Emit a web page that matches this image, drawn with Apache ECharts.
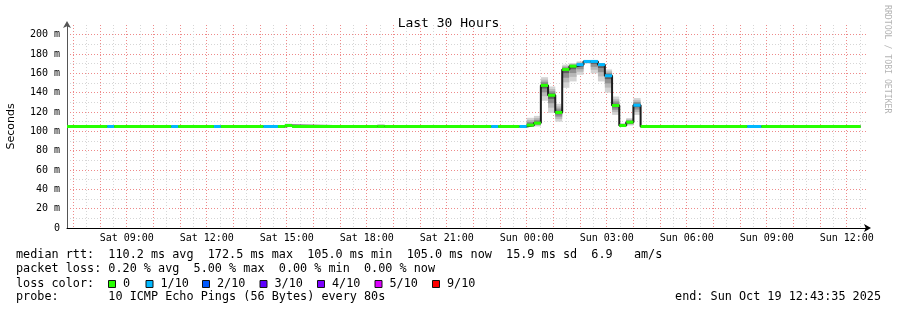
<!DOCTYPE html>
<html>
<head>
<meta charset="utf-8">
<title>Last 30 Hours</title>
<script src="https://cdn.jsdelivr.net/npm/echarts@6/dist/echarts.min.js"></script>
<style>
html, body {margin: 0; padding: 0; background: #fff;}
#chart {width: 897px; height: 310px;}
</style>
</head>
<body>
<div id="chart"></div>
<script>
// time is in hours since Sat 00:00; each step lasts until the next one starts
var stepStart = [6.76, 8.27, 8.53, 10.67, 10.93, 12.27, 12.53, 14.13, 14.67, 14.93, 15.2, 18.4, 18.67, 22.67, 22.93, 23.73,
    24.0, 24.27, 24.53, 24.8, 25.07, 25.33, 25.6, 25.87, 26.13, 26.4, 26.67, 26.93, 27.2, 27.47, 27.73, 28.0,
    28.27, 32.27, 32.8];
var dataEnd = 36.52;
// median rtt, ms
var medianMs = [105, 105, 105, 105, 105, 105, 105, 105, 105, 106, 105, 105, 105, 105, 105, 105,
    106.4, 108.5, 147.5, 137.3, 119.5, 164, 167.4, 169, 172.3, 172.3, 169, 157.5, 126.7, 106, 109.5, 127,
    105, 105, 105];
// lost pings out of 10
var lossCount = [0, 1, 0, 1, 0, 1, 0, 1, 0, 0, 0, 0, 0, 1, 0, 1,
    0, 0, 0, 0, 0, 0, 0, 1, 1, 1, 1, 1, 0, 0, 0, 1,
    0, 1, 0];
// smoke: lowest and highest ping of the step, ms
var smokeLo = [105, 105, 105, 105, 105, 105, 105, 105, 105, 105, 105, 105, 105, 105, 105, 105,
    105, 105, 131.6, 119, 110, 145, 151.6, 158.5, 170, 160, 151.6, 140, 117, 105, 106, 117,
    105, 105, 105];
var smokeHi = [105, 105, 105, 105, 105, 105, 105, 105, 105, 108, 105, 107.5, 105, 105, 105, 105,
    114, 116, 156, 146.4, 128.5, 169, 170.6, 172.4, 173, 173, 170.6, 164, 136, 108.5, 113.7, 134.4,
    105, 105, 105];

var xLabelHours = [9, 12, 15, 18, 21, 24, 27, 30, 33, 36];
var xLabels = ['Sat 09:00', 'Sat 12:00', 'Sat 15:00', 'Sat 18:00', 'Sat 21:00',
    'Sun 00:00', 'Sun 03:00', 'Sun 06:00', 'Sun 09:00', 'Sun 12:00'];
var yTickValues = [0, 20, 40, 60, 80, 100, 120, 140, 160, 180, 200];
var yTickLabels = ['0', '20 m', '40 m', '60 m', '80 m', '100 m', '120 m', '140 m', '160 m', '180 m', '200 m'];

var lossSteps = [0, 1, 2, 3, 4, 5, 9];
var lossNames = ['0', '1/10', '2/10', '3/10', '4/10', '5/10', '9/10'];
var lossColors = ['#26ff00', '#00b8ff', '#0059ff', '#5e00ff', '#7e00ff', '#dd00ff', '#ff0000'];

var statsText = [
    'median rtt:  110.2 ms avg  172.5 ms max  105.0 ms min  105.0 ms now  15.9 ms sd  6.9   am/s',
    'packet loss: 0.20 % avg  5.00 % max  0.00 % min  0.00 % now',
    'loss color:',
    'probe:       10 ICMP Echo Pings (56 Bytes) every 80s'
];
var endText = 'end: Sun Oct 19 12:43:35 2025';

var MONO = '"DejaVu Sans Mono", monospace';

function stepEnd(i) {
    return i + 1 < stepStart.length ? stepStart[i + 1] : dataEnd;
}

function lossColor(n) {
    var i = lossSteps.indexOf(n);
    return lossColors[i < 0 ? lossColors.length - 1 : i];
}

var smokeData = [], medData = [], connector = [];
stepStart.forEach(function (s, i) {
    var e = stepEnd(i);
    smokeData.push([s, e, smokeLo[i], smokeHi[i], medianMs[i]]);
    medData.push([s, e, medianMs[i], lossCount[i]]);
    connector.push([s, medianMs[i]], [e, medianMs[i]]);
});

function renderSmoke(params, api) {
    var x0 = api.coord([api.value(0), 0])[0];
    var x1 = api.coord([api.value(1), 0])[0];
    var lo = api.value(2), hi = api.value(3), med = api.value(4);
    var bands = [[1, '#d4d4d4'], [0.7, '#b8b8b8'], [0.45, '#909090'], [0.2, '#5e5e5e']];
    return {
        type: 'group',
        children: bands.map(function (b) {
            var top = api.coord([0, med + (hi - med) * b[0]])[1];
            var bot = api.coord([0, med - (med - lo) * b[0]])[1];
            return {
                type: 'rect',
                shape: {x: x0, y: top, width: x1 - x0, height: Math.max(bot - top, 0)},
                style: {fill: b[1]}
            };
        })
    };
}

function renderMedian(params, api) {
    var p0 = api.coord([api.value(0), api.value(2)]);
    var p1 = api.coord([api.value(1), api.value(2)]);
    return {
        type: 'rect',
        shape: {x: p0[0], y: p0[1] - 1.5, width: p1[0] - p0[0], height: 3},
        style: {fill: lossColor(api.value(3))}
    };
}

function fmtX(v) {
    for (var i = 0; i < xLabelHours.length; i++) {
        if (Math.abs(v - xLabelHours[i]) < 1e-6) return xLabels[i];
    }
    return '';
}

function fmtY(v) {
    for (var i = 0; i < yTickValues.length; i++) {
        if (Math.abs(v - yTickValues[i]) < 1e-6) return yTickLabels[i];
    }
    return '';
}

var majorGrid = {color: '#ee8a8a', type: [1, 2], width: 1};
var minorGrid = {color: '#d6d6d6', type: [1, 2], width: 1};

// legend lines under the plot
var graphics = [];
var lineY = [255, 268.7, 283.5, 296.7];
statsText.forEach(function (t, i) {
    graphics.push({
        type: 'text', x: 16, y: lineY[i],
        style: {text: t, fontFamily: MONO, fontSize: 11.8, fill: '#000', verticalAlign: 'middle'}
    });
});
var boxX = [108.5, 146, 202.5, 260, 317.5, 375, 432.5];
lossNames.forEach(function (name, i) {
    graphics.push({
        type: 'rect',
        shape: {x: boxX[i], y: 280.5, width: 7, height: 7},
        style: {fill: lossColors[i], stroke: '#111', lineWidth: 1}
    });
    graphics.push({
        type: 'text', x: boxX[i] + 14.5, y: lineY[2],
        style: {text: name, fontFamily: MONO, fontSize: 11.8, fill: '#000', verticalAlign: 'middle'}
    });
});
graphics.push({
    type: 'text', x: 881, y: lineY[3],
    style: {text: endText, fontFamily: MONO, fontSize: 11.8, fill: '#000', align: 'right', verticalAlign: 'middle'}
});
graphics.push({
    type: 'text', x: 887, y: 5, rotation: -Math.PI / 2,
    style: {text: 'RRDTOOL / TOBI OETIKER', fontFamily: MONO, fontSize: 8.2, fill: '#b4b4b4', align: 'left', verticalAlign: 'middle'}
});

var chart = echarts.init(document.getElementById('chart'), null, {renderer: 'canvas'});
chart.setOption({
    animation: false,
    backgroundColor: '#fff',
    title: {
        text: 'Last 30 Hours', left: 'center', top: 12,
        textStyle: {fontFamily: MONO, fontSize: 13, fontWeight: 'normal', color: '#000'}
    },
    grid: {left: 67, right: 30, top: 25, bottom: 82, containLabel: false, outerBoundsMode: 'none'},
    xAxis: {
        type: 'value', min: 6.76, max: 36.76, splitNumber: 30,
        axisLine: {
            show: true, onZero: false, lineStyle: {color: '#000', width: 1},
            symbol: ['none', 'arrow'], symbolSize: [6, 7], symbolOffset: [0, 4]
        },
        axisTick: {show: false},
        axisLabel: {margin: 5, color: '#000', fontFamily: MONO, fontSize: 10, formatter: fmtX, hideOverlap: false},
        splitLine: {show: true, showMinLine: false, showMaxLine: false, lineStyle: majorGrid},
        minorTick: {show: false, splitNumber: 2},
        minorSplitLine: {show: true, lineStyle: minorGrid}
    },
    yAxis: {
        type: 'value', min: 0, max: 210, interval: 20,
        name: 'Seconds', nameLocation: 'middle', nameGap: 50, nameRotate: 90,
        nameTextStyle: {fontFamily: '"DejaVu Sans", sans-serif', fontSize: 11, color: '#000'},
        axisLine: {
            show: true, lineStyle: {color: '#555', width: 1},
            symbol: ['none', 'arrow'], symbolSize: [6, 7], symbolOffset: [0, 4]
        },
        axisTick: {show: false},
        axisLabel: {margin: 7, color: '#000', fontFamily: MONO, fontSize: 10, formatter: fmtY},
        splitLine: {show: true, showMinLine: false, showMaxLine: false, lineStyle: majorGrid},
        minorTick: {show: false, splitNumber: 2},
        minorSplitLine: {show: true, lineStyle: minorGrid}
    },
    series: [
        {
            type: 'custom', name: 'smoke', renderItem: renderSmoke, data: smokeData,
            encode: {x: [0, 1], y: [2, 3]}, z: 1, silent: true
        },
        {
            type: 'line', name: 'median', data: connector, symbol: 'none', z: 2, silent: true,
            lineStyle: {color: '#1e1e1e', width: 2}
        },
        {
            type: 'custom', name: 'loss', renderItem: renderMedian, data: medData,
            encode: {x: [0, 1], y: 2}, z: 3, silent: true
        }
    ],
    graphic: graphics
});
</script>
</body>
</html>
